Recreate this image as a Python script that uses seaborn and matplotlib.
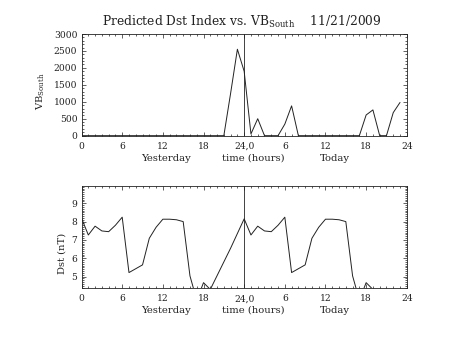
import matplotlib
matplotlib.use("Agg")
import matplotlib.pyplot as plt
from matplotlib.ticker import MultipleLocator, FixedLocator
import seaborn as sns
import pandas as pd

# Hourly values over two days (hour 0-23 yesterday, 24-47 today)
vb_hours = [0, 1, 2, 3, 4, 5, 6, 7, 8, 9, 10, 11, 12, 13, 14, 15, 16, 17, 18, 19, 20, 21, 22, 23,
            24, 25, 26, 27, 28, 29, 30, 31, 32, 33, 34, 35, 36, 37, 38, 39, 40, 41, 42, 43, 44, 45, 46, 47]
vb_south = [0, 0, 0, 0, 0, 0, 0, 0, 0, 0, 0, 0, 0, 0, 0, 0, 0, 0, 0, 0, 0, 0, 1250, 2550,
            1900, 50, 500, 0, 0, 0, 340, 880, 0, 0, 0, 0, 0, 0, 0, 0, 0, 0, 610, 760, 0, 0, 680, 980]

dst_hours = [0, 1, 2, 3, 4, 5, 6, 7, 8, 9, 10, 11, 12, 13, 14, 15, 16, 17, 18, 19, 20, 21, 22, 23,
             24, 25, 26, 27, 28, 29, 30, 31, 32, 33, 34, 35, 36, 37, 38, 39, 40, 41, 42, 43]
dst_nt = [8.18, 7.27, 7.75, 7.49, 7.45, 7.80, 8.24, 5.22, 5.43, 5.64, 7.09, 7.69, 8.13, 8.13, 8.10, 8.00,
          5.04, 3.72, 4.67, 4.30, 5.05, 5.80, 6.55, 7.35,
          8.15, 7.27, 7.75, 7.49, 7.45, 7.80, 8.24, 5.22, 5.43, 5.64, 7.09, 7.69, 8.13, 8.13, 8.10, 8.00,
          5.04, 3.72, 4.67, 4.30]

xtick_pos = [0, 6, 12, 18, 24, 30, 36, 42, 48]
xtick_labels = ["0", "6", "12", "18", "24,0", "6", "12", "18", "24"]

sns.set_theme(style="ticks")
plt.rcParams["font.family"] = ["DejaVu Serif"]
plt.rcParams["mathtext.fontset"] = "dejavuserif"

ink = "#222222"
fs = 6.6

fig = plt.figure(figsize=(4.53, 3.40), dpi=100)
ax1 = fig.add_axes([0.180, 0.601, 0.718, 0.299])
ax2 = fig.add_axes([0.180, 0.153, 0.718, 0.301])

vb_df = pd.DataFrame({"hour": vb_hours, "vb": vb_south})
dst_df = pd.DataFrame({"hour": dst_hours, "dst": dst_nt})

sns.lineplot(data=vb_df, x="hour", y="vb", ax=ax1, color=ink, linewidth=0.7)
sns.lineplot(data=dst_df, x="hour", y="dst", ax=ax2, color=ink, linewidth=0.7)

ax1.set_ylim(0, 3000)
ax1.yaxis.set_major_locator(MultipleLocator(500))
ax1.yaxis.set_minor_locator(MultipleLocator(100))

ax2.set_ylim(4.38, 9.96)
ax2.yaxis.set_major_locator(FixedLocator([5, 6, 7, 8, 9]))
ax2.yaxis.set_minor_locator(MultipleLocator(0.1))

for ax in (ax1, ax2):
    ax.set_xlim(0, 48)
    ax.axvline(24, color=ink, linewidth=0.6)
    ax.set_xticks(xtick_pos)
    ax.set_xticklabels(xtick_labels)
    ax.xaxis.set_minor_locator(MultipleLocator(1))
    ax.tick_params(which="both", direction="in", top=True, right=True,
                   color=ink, width=0.5, labelsize=fs, labelcolor=ink)
    ax.tick_params(which="major", length=3.0)
    ax.tick_params(axis="x", which="major", pad=4.5)
    ax.tick_params(axis="y", which="major", pad=3)
    ax.tick_params(which="minor", length=1.5)
    for s in ax.spines.values():
        s.set_color(ink)
        s.set_linewidth(0.6)
    ax.set_xlabel("")
    ax.set_ylabel("")
    for xf, txt in ((0.258, "Yesterday"), (0.527, "time (hours)"), (0.778, "Today")):
        ax.text(xf, -0.22, txt, transform=ax.transAxes, ha="center", va="center",
                fontsize=fs + 0.6, color=ink)

fig.text(0.091, 0.730, r"VB$_{\mathrm{South}}$", rotation=90, ha="center", va="center",
         fontsize=fs + 0.6, color=ink)
fig.text(0.136, 0.256, "Dst (nT)", rotation=90, ha="center", va="center",
         fontsize=fs + 0.6, color=ink)

fig.text(0.533, 0.935, r"Predicted Dst Index vs. VB$_{\mathrm{South}}$    11/21/2009",
         ha="center", va="center", fontsize=8.8, color=ink)

fig.savefig("out.png", dpi=100)
